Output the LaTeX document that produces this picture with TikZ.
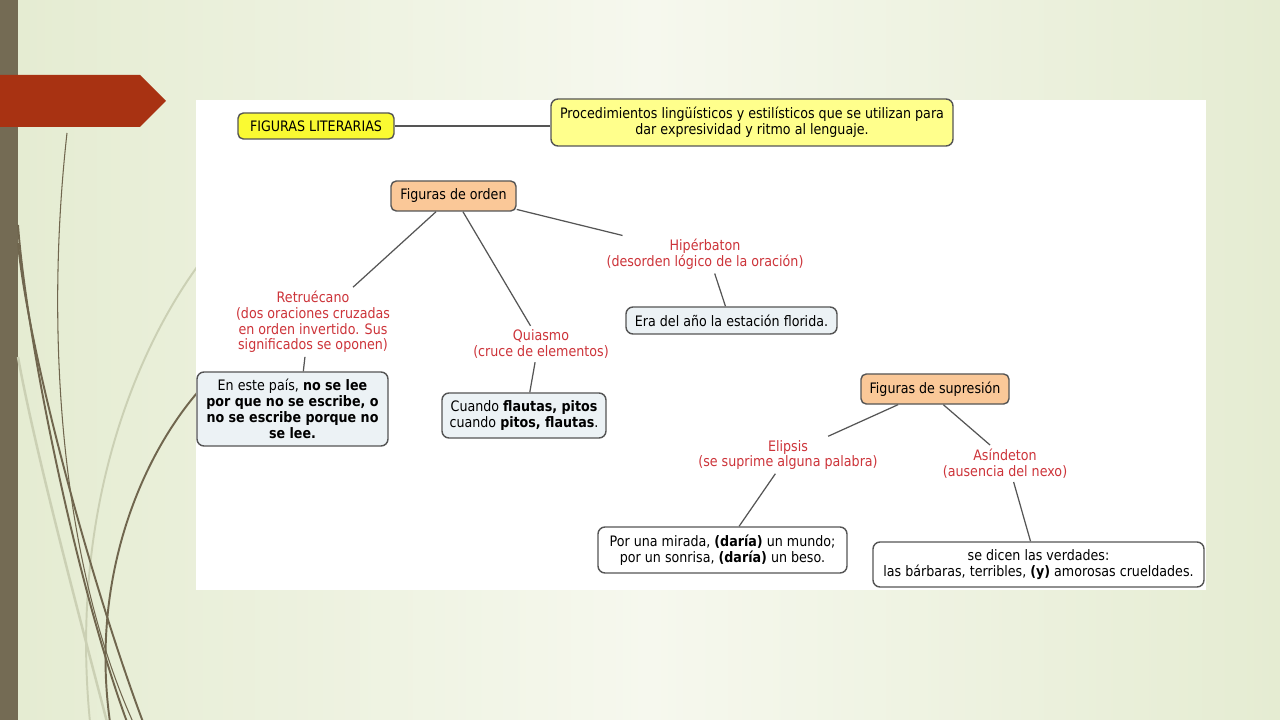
\documentclass[tikz,border=0pt]{standalone}
\usepackage{fontspec}
\setmainfont{DejaVu Sans}[FakeStretch=0.88]
\usepackage{tikz}
\usetikzlibrary{positioning}
\definecolor{SlideBg}{RGB}{229,236,210}
\definecolor{SlideLight}{RGB}{246,248,238}
\definecolor{BarBrown}{RGB}{116,107,84}
\definecolor{ArrowRed}{RGB}{168,50,18}
\definecolor{CurveBrown}{RGB}{112,102,78}
\definecolor{CurvePale}{RGB}{203,208,180}
\definecolor{LineGray}{RGB}{85,85,85}
\definecolor{RootYellow}{RGB}{250,250,50}
\definecolor{DefYellow}{RGB}{255,255,140}
\definecolor{CatOrange}{RGB}{250,200,152}
\definecolor{ExBlue}{RGB}{236,242,245}
\definecolor{LabRed}{RGB}{205,52,58}
\begin{document}
\begin{tikzpicture}[x=0.2mm,y=-0.2mm,
  txt/.style={font=\fontsize{8.2}{9}\selectfont,align=center},
  rootbox/.style={txt,draw=LineGray,fill=RootYellow,rounded corners=3pt,line width=0.8pt,
                  minimum width=31.2mm,minimum height=5.2mm,inner sep=1pt},
  defbox/.style={txt,draw=LineGray,fill=DefYellow,rounded corners=4pt,line width=0.8pt,
                 minimum width=80.4mm,minimum height=9.4mm,inner sep=1pt},
  catbox/.style={txt,draw=LineGray,fill=CatOrange,rounded corners=3pt,line width=0.8pt,
                 minimum height=6mm,inner sep=1pt},
  exbox/.style={txt,draw=LineGray,fill=ExBlue,rounded corners=4pt,line width=0.8pt,inner sep=1pt},
  wbox/.style={txt,draw=LineGray,fill=white,rounded corners=4pt,line width=0.8pt,inner sep=1pt},
  lab/.style={txt,text=LabRed,inner sep=2pt},
  link/.style={draw=LineGray,line width=0.7pt},
]
\useasboundingbox (0,0) rectangle (1280,720);
% slide background
\fill[SlideBg] (0,0) rectangle (1280,720);
\shade[left color=SlideBg,right color=SlideBg,middle color=SlideLight] (18,0) rectangle (1280,720);
\fill[BarBrown] (0,0) rectangle (18,720);
% decorative curves
\draw[CurvePale,line width=1.4pt] (18,357) .. controls (35,450) and (75,600) .. (107,722);
\draw[CurvePale,line width=1.1pt] (197,267) .. controls (130,360) and (70,520) .. (90,722);
\draw[CurveBrown,line width=0.6pt] (67,133) .. controls (45,330) and (60,560) .. (133,722);
\draw[CurveBrown,line width=1.1pt] (18,243) .. controls (28,350) and (90,580) .. (143,722);
\draw[CurveBrown,line width=1.1pt] (18,225) .. controls (26,335) and (75,580) .. (127,722);
\draw[CurveBrown,line width=1.1pt] (197,393) .. controls (140,460) and (90,580) .. (110,722);
\fill[ArrowRed] (0,75) -- (140,75) -- (166,101) -- (140,127) -- (0,127) -- cycle;
% white panel
\fill[white] (196,100) rectangle (1206,590);

% nodes
\node[rootbox] (lit) at (316,126) {FIGURAS LITERARIAS};
\node[defbox] (def) at (752,122.5) {Procedimientos lingüísticos y estilísticos que se utilizan para\\dar expresividad y ritmo al lenguaje.};
\node[catbox,minimum width=25mm] (ord) at (453.5,196) {Figuras de orden};
\node[lab] (retr) at (313,322) {Retruécano\\(dos oraciones cruzadas\\en orden invertido. Sus\\significados se oponen)};
\node[exbox,minimum width=38.2mm,minimum height=14.8mm] (ej1) at (292.5,409)
  {En este país, \textbf{no se lee}\\\textbf{por que no se escribe, o}\\\textbf{no se escribe porque no}\\\textbf{se lee.}};
\node[lab] (quia) at (541,344) {Quiasmo\\(cruce de elementos)};
\node[exbox,minimum width=32.8mm,minimum height=9mm] (ej2) at (524,415.5)
  {Cuando \textbf{flautas, pitos}\\cuando \textbf{pitos, flautas}.};
\node[lab] (hip) at (705,254.5) {Hipérbaton\\(desorden lógico de la oración)};
\node[exbox,minimum width=42.2mm,minimum height=5.4mm] (ej3) at (731.5,320.5) {Era del año la estación florida.};
\node[catbox,minimum width=29.6mm] (sup) at (935,389) {Figuras de supresión};
\node[lab] (eli) at (788,455) {Elipsis\\(se suprime alguna palabra)};
\node[wbox,minimum width=49.8mm,minimum height=9.2mm] (ej4) at (722.5,550)
  {Por una mirada, \textbf{(daría)} un mundo;\\por un sonrisa, \textbf{(daría)} un beso.};
\node[lab] (asi) at (1005,463.5) {Asíndeton\\(ausencia del nexo)};
\node[wbox,minimum width=66.2mm,minimum height=9mm] (ej5) at (1038.5,564.5)
  {se dicen las verdades:\\las bárbaras, terribles, \textbf{(y)} amorosas crueldades.};

% connectors
\draw[link] (lit.east) -- (lit.east -| def.west);
\draw[link] (ord.222) -- (retr.41);
\draw[link] (ord.301) -- (quia.120);
\draw[link] (ord.-12) -- (hip.167);
\draw[link] (retr.257) -- (ej1.74);
\draw[link] (quia.252) -- (ej2.76);
\draw[link] (hip.297) -- (ej3.113);
\draw[link] (sup.203) -- (eli.25);
\draw[link] (sup.298) -- (asi.129);
\draw[link] (eli.236) -- (ej4.55);
\draw[link] (asi.295) -- (ej5.109);
\end{tikzpicture}
\end{document}
